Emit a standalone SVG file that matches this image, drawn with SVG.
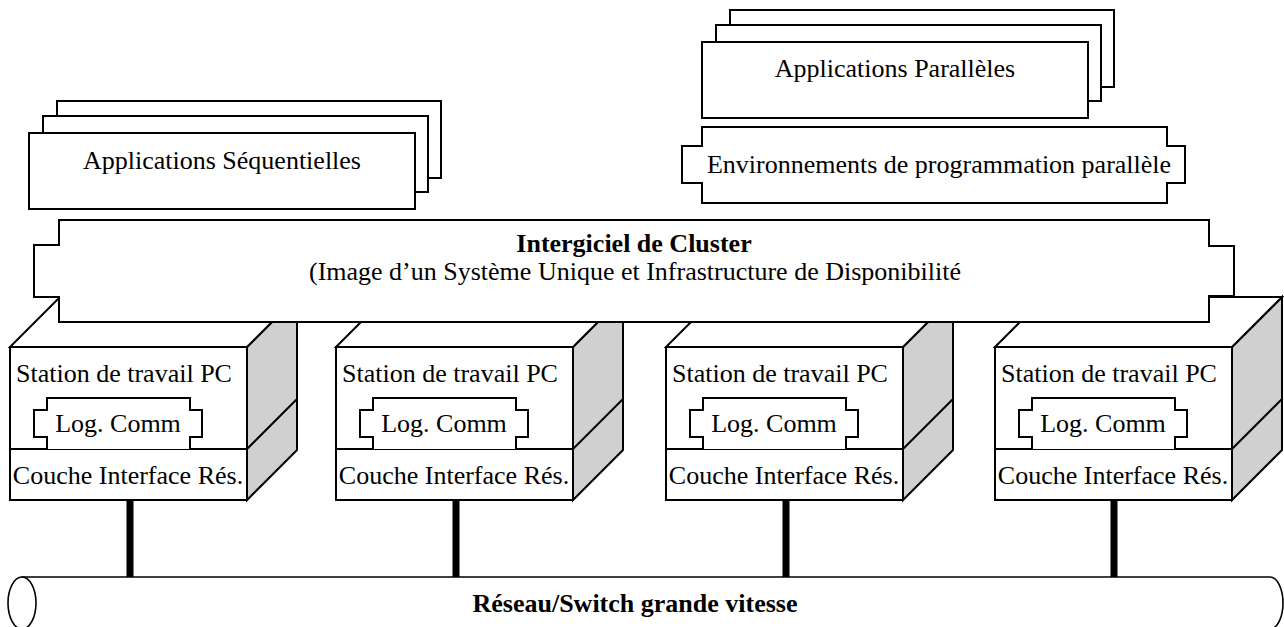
<svg xmlns="http://www.w3.org/2000/svg" xmlns:xlink="http://www.w3.org/1999/xlink" width="1284" height="627" viewBox="0 0 1284 627">
<style>
  .ln { fill: #ffffff; stroke: #000000; stroke-width: 2; stroke-linejoin: miter; }
  .side { fill: #d0d0d0; stroke: #000000; stroke-width: 2; }
  .open { fill: none; stroke: #000000; stroke-width: 2; }
  .t { font-family: "Liberation Serif", "Times New Roman", serif; font-size: 26px; fill: #000000; text-anchor: middle; }
  .b { font-weight: bold; }
  .bar { fill: #000000; }
  .tube { fill: #ffffff; stroke: #000000; stroke-width: 1.6; }
</style>
<defs>
  <g id="cube">
    <polygon class="side" points="237,0 287,-50 287,103 237,153"/>
    <polygon class="ln" points="0,0 50,-50 287,-50 237,0"/>
    <line class="open" x1="237" y1="102" x2="287" y2="52"/>
    <rect class="ln" x="0" y="0" width="237" height="153"/>
    <line class="open" x1="0" y1="102" x2="237" y2="102"/>
    <path class="ln" d="M37,102 V90 H24 V63 H37 V51 H180 V63 H192 V90 H180 V102"/>
  </g>
  <g id="stack">
    <rect class="ln" x="28" y="0" width="384" height="77"/>
    <rect class="ln" x="14" y="15" width="385" height="76"/>
    <rect class="ln" x="0" y="32" width="386" height="76"/>
  </g>
</defs>

<g id="seq-apps">
  <use xlink:href="#stack" href="#stack" x="29" y="101"/>
  <text class="t" x="222" y="169">Applications Séquentielles</text>
</g>

<g id="par-apps">
  <use xlink:href="#stack" href="#stack" x="702" y="10"/>
  <text class="t" x="895" y="77">Applications Parallèles</text>
</g>

<g id="par-env">
  <path class="ln" d="M702,127 H1167 V146 H1185 V183 H1167 V203 H702 V183 H682 V146 H702 Z"/>
  <text class="t" x="939" y="173">Environnements de programmation parallèle</text>
</g>

<g id="ws1" transform="translate(10,347)">
  <use xlink:href="#cube" href="#cube"/>
  <text class="t" x="114" y="35">Station de travail PC</text>
  <text class="t" x="108" y="85">Log. Comm</text>
  <text class="t" x="118" y="137">Couche Interface Rés.</text>
</g>
<g id="ws2" transform="translate(336,347)">
  <use xlink:href="#cube" href="#cube"/>
  <text class="t" x="114" y="35">Station de travail PC</text>
  <text class="t" x="108" y="85">Log. Comm</text>
  <text class="t" x="118" y="137">Couche Interface Rés.</text>
</g>
<g id="ws3" transform="translate(666,347)">
  <use xlink:href="#cube" href="#cube"/>
  <text class="t" x="114" y="35">Station de travail PC</text>
  <text class="t" x="108" y="85">Log. Comm</text>
  <text class="t" x="118" y="137">Couche Interface Rés.</text>
</g>
<g id="ws4" transform="translate(995,347)">
  <use xlink:href="#cube" href="#cube"/>
  <text class="t" x="114" y="35">Station de travail PC</text>
  <text class="t" x="108" y="85">Log. Comm</text>
  <text class="t" x="118" y="137">Couche Interface Rés.</text>
</g>

<g id="middleware">
  <path class="ln" d="M59,220 H1209 V246 H1234 V296 H1209 V322 H59 V297 H34 V245 H59 Z"/>
  <text class="t b" x="634" y="252">Intergiciel de Cluster</text>
  <text class="t" x="635" y="280">(Image d’un Système Unique et Infrastructure de Disponibilité</text>
</g>

<g id="connectors">
  <rect class="bar" x="126.5" y="500" width="7" height="77"/>
  <rect class="bar" x="452.5" y="500" width="7" height="77"/>
  <rect class="bar" x="782.5" y="500" width="7" height="77"/>
  <rect class="bar" x="1110.5" y="500" width="7" height="77"/>
</g>

<g id="network">
  <path class="tube" d="M22,577 H1270 A13,26 0 0 1 1270,629 H22 Z"/>
  <ellipse class="tube" cx="22" cy="603" rx="14" ry="26"/>
  <text class="t b" x="635" y="612">Réseau/Switch grande vitesse</text>
</g>
</svg>
